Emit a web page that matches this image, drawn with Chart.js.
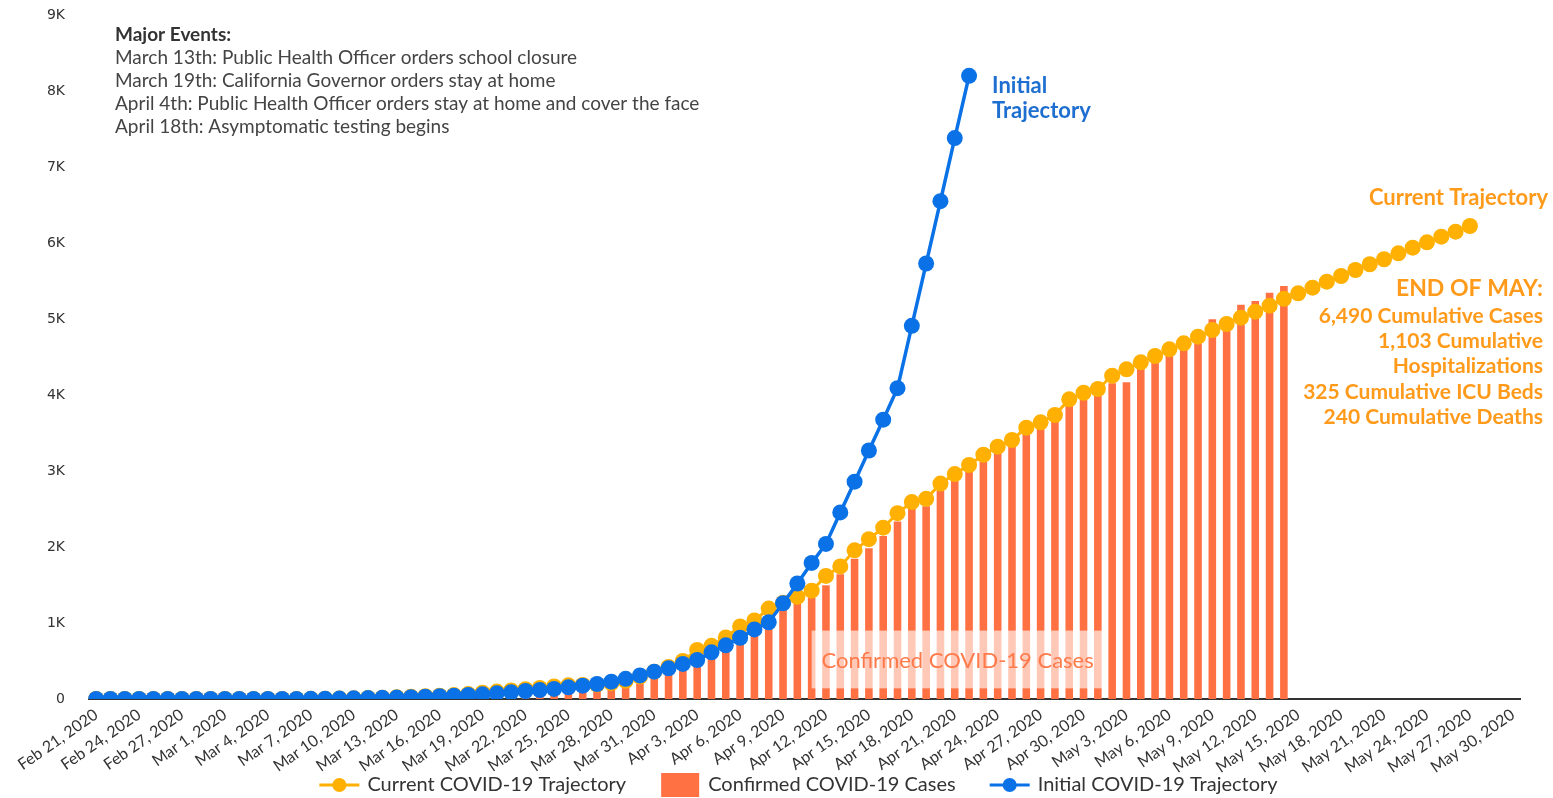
<!DOCTYPE html>
<html>
<head>
<meta charset="utf-8">
<script src="https://cdn.jsdelivr.net/npm/chart.js@4.4.0/dist/chart.umd.min.js"></script>
<style>
  html, body { margin: 0; padding: 0; background: #fff; }
  canvas { display: block; }
</style>
</head>
<body>
<canvas id="chart" width="1553" height="798"></canvas>
<script>
// Daily categories, Feb 21 - May 30, 2020
const categories = [
  'Feb 21, 2020','Feb 22, 2020','Feb 23, 2020','Feb 24, 2020','Feb 25, 2020','Feb 26, 2020','Feb 27, 2020','Feb 28, 2020','Feb 29, 2020',
  'Mar 1, 2020','Mar 2, 2020','Mar 3, 2020','Mar 4, 2020','Mar 5, 2020','Mar 6, 2020','Mar 7, 2020','Mar 8, 2020','Mar 9, 2020','Mar 10, 2020',
  'Mar 11, 2020','Mar 12, 2020','Mar 13, 2020','Mar 14, 2020','Mar 15, 2020','Mar 16, 2020','Mar 17, 2020','Mar 18, 2020','Mar 19, 2020','Mar 20, 2020',
  'Mar 21, 2020','Mar 22, 2020','Mar 23, 2020','Mar 24, 2020','Mar 25, 2020','Mar 26, 2020','Mar 27, 2020','Mar 28, 2020','Mar 29, 2020','Mar 30, 2020','Mar 31, 2020',
  'Apr 1, 2020','Apr 2, 2020','Apr 3, 2020','Apr 4, 2020','Apr 5, 2020','Apr 6, 2020','Apr 7, 2020','Apr 8, 2020','Apr 9, 2020','Apr 10, 2020',
  'Apr 11, 2020','Apr 12, 2020','Apr 13, 2020','Apr 14, 2020','Apr 15, 2020','Apr 16, 2020','Apr 17, 2020','Apr 18, 2020','Apr 19, 2020','Apr 20, 2020',
  'Apr 21, 2020','Apr 22, 2020','Apr 23, 2020','Apr 24, 2020','Apr 25, 2020','Apr 26, 2020','Apr 27, 2020','Apr 28, 2020','Apr 29, 2020','Apr 30, 2020',
  'May 1, 2020','May 2, 2020','May 3, 2020','May 4, 2020','May 5, 2020','May 6, 2020','May 7, 2020','May 8, 2020','May 9, 2020','May 10, 2020',
  'May 11, 2020','May 12, 2020','May 13, 2020','May 14, 2020','May 15, 2020','May 16, 2020','May 17, 2020','May 18, 2020','May 19, 2020','May 20, 2020',
  'May 21, 2020','May 22, 2020','May 23, 2020','May 24, 2020','May 25, 2020','May 26, 2020','May 27, 2020','May 28, 2020','May 29, 2020','May 30, 2020'
];

const currentTrajectory = [
  0, 0, 0, 0, 0, 0, 0, 0, 0, 0,
  0, 0, 0, 0, 0, 2, 4, 7, 10, 14,
  18, 23, 29, 36, 44, 52, 65, 82, 98, 112,
  128, 145, 165, 180, 185, 190, 210, 240, 295, 360,
  421, 500, 645, 700, 810, 955, 1034, 1190, 1265, 1344,
  1425, 1620, 1745, 1956, 2103, 2254, 2445, 2591, 2634, 2834,
  2959, 3079, 3214, 3320, 3408, 3570, 3640, 3737, 3943, 4030,
  4079, 4254, 4338, 4430, 4513, 4601, 4680, 4767, 4855, 4934,
  5017, 5096, 5175, 5265, 5338, 5412, 5491, 5566, 5645, 5720,
  5786, 5864, 5938, 6009, 6083, 6149, 6224, null, null, null
];

const confirmedCases = [
  null, null, null, null, null, null, null, null, null, null,
  null, null, null, null, null, null, null, null, null, null,
  10, 15, 20, 28, 35, 45, 55, 70, 85, 100,
  115, 130, 145, 160, 175, 185, 205, 225, 280, 340,
  400, 470, 600, 650, 760, 910, 1000, 1150, 1171, 1250,
  1333, 1496, 1642, 1847, 1983, 2145, 2336, 2500, 2537, 2742,
  2868, 2987, 3122, 3233, 3320, 3496, 3561, 3649, 3855, 3934,
  4000, 4154, 4167, 4351, 4439, 4526, 4614, 4680, 4996, 4880,
  5189, 5237, 5346, 5434, null, null, null, null, null, null,
  null, null, null, null, null, null, null, null, null, null
];

const initialTrajectory = [
  0, 0, 0, 0, 0, 0, 0, 0, 0, 0,
  0, 0, 0, 0, 0, 2, 4, 6, 9, 12,
  15, 19, 24, 30, 36, 43, 53, 62, 75, 88,
  105, 118, 132, 154, 175, 197, 228, 265, 310, 360,
  404, 461, 513, 614, 706, 806, 915, 1010, 1260, 1520,
  1790, 2040, 2455, 2860, 3270, 3675, 4090, 4910, 5730, 6550,
  7380, 8200, null, null, null, null, null, null, null, null,
  null, null, null, null, null, null, null, null, null, null,
  null, null, null, null, null, null, null, null, null, null,
  null, null, null, null, null, null, null, null, null, null
];

const majorEventsTitle = 'Major Events:';
const majorEvents = [
  'March 13th: Public Health Officer orders school closure',
  'March 19th: California Governor orders stay at home',
  'April 4th: Public Health Officer orders stay at home and cover the face',
  'April 18th: Asymptomatic testing begins'
];
const endOfMayTitle = 'END OF MAY:';
const endOfMayLines = [
  '6,490 Cumulative Cases',
  '1,103 Cumulative',
  'Hospitalizations',
  '325 Cumulative ICU Beds',
  '240 Cumulative Deaths'
];

const YELLOW = '#ffb000';
const ORANGE = '#ff7043';
const BLUE = '#0a72e6';

// text annotations and the bottom legend
const annotations = {
  id: 'annotations',
  afterDatasetsDraw(chart) {
    const { ctx, chartArea, scales: { x, y } } = chart;
    ctx.save();
    ctx.textBaseline = 'middle';

    // translucent label box over the bars
    const bx0 = x.getPixelForValue(50), bx1 = x.getPixelForValue(70.4);
    const by0 = y.getPixelForValue(900), by1 = y.getPixelForValue(140);
    ctx.fillStyle = 'rgba(255,255,255,0.62)';
    ctx.fillRect(bx0, by0, bx1 - bx0, by1 - by0);
    ctx.fillStyle = '#ff7a4a';
    ctx.font = '22px Lato';
    ctx.textAlign = 'center';
    ctx.fillText('Confirmed COVID-19 Cases', (bx0 + bx1) / 2, (by0 + by1) / 2 + 1);

    // major events block
    ctx.textAlign = 'left';
    ctx.fillStyle = '#333';
    ctx.font = 'bold 19px Lato';
    ctx.fillText(majorEventsTitle, 115, 35);
    ctx.font = '19px Lato';
    ctx.fillStyle = '#444';
    majorEvents.forEach((t, i) => ctx.fillText(t, 115, 58 + i * 23));

    // initial trajectory label
    const ix = x.getPixelForValue(61) + 23;
    const iy = y.getPixelForValue(8200);
    ctx.fillStyle = '#1f6fd1';
    ctx.font = 'bold 22px Lato';
    ctx.fillText('Initial', ix, iy + 10);
    ctx.fillText('Trajectory', ix, iy + 35);

    // current trajectory + end of May block
    ctx.textAlign = 'right';
    ctx.fillStyle = '#ff9a1a';
    ctx.font = 'bold 22px Lato';
    ctx.fillText('Current Trajectory', 1548, 198);
    ctx.font = 'bold 23px Lato';
    ctx.fillText(endOfMayTitle, 1543, 289);
    ctx.font = 'bold 21px Lato';
    endOfMayLines.forEach((t, i) => ctx.fillText(t, 1543, 316 + i * 25.3));

    // legend: line+dot for line datasets, box for bars
    ctx.font = '20px Lato';
    ctx.textAlign = 'left';
    const items = chart.data.datasets.map(d => ({ text: d.label, color: d.backgroundColor, bar: d.type === 'bar' }));
    const iconW = 40, textGap = 8, itemGap = 34;
    const total = items.reduce((s, it) => s + iconW + textGap + ctx.measureText(it.text).width, 0) + itemGap * (items.length - 1);
    let lx = (chartArea.left + chartArea.right) / 2 - 6 - total / 2;
    const ly = 785;
    items.forEach(it => {
      ctx.fillStyle = it.color;
      ctx.strokeStyle = it.color;
      if (it.bar) {
        ctx.fillRect(lx + 1, ly - 12, 38, 24);
      } else {
        ctx.lineWidth = 3;
        ctx.beginPath(); ctx.moveTo(lx, ly); ctx.lineTo(lx + iconW, ly); ctx.stroke();
        ctx.beginPath(); ctx.arc(lx + iconW / 2, ly, 7, 0, Math.PI * 2); ctx.fill();
      }
      ctx.fillStyle = '#333';
      ctx.fillText(it.text, lx + iconW + textGap, ly);
      lx += iconW + textGap + ctx.measureText(it.text).width + itemGap;
    });

    ctx.restore();
  }
};

const ctx = document.getElementById('chart').getContext('2d');
new Chart(ctx, {
  type: 'bar',
  data: {
    labels: categories,
    datasets: [
      {
        type: 'line', label: 'Current COVID-19 Trajectory', data: currentTrajectory,
        borderColor: YELLOW, backgroundColor: YELLOW, borderWidth: 3,
        pointRadius: 8, pointHoverRadius: 8, pointBorderWidth: 0, tension: 0, order: 1
      },
      {
        type: 'bar', label: 'Confirmed COVID-19 Cases', data: confirmedCases,
        backgroundColor: ORANGE, barPercentage: 0.53, categoryPercentage: 1, order: 2
      },
      {
        type: 'line', label: 'Initial COVID-19 Trajectory', data: initialTrajectory,
        borderColor: BLUE, backgroundColor: BLUE, borderWidth: 3.5,
        pointRadius: 8, pointHoverRadius: 8, pointBorderWidth: 0, tension: 0, order: 0
      }
    ]
  },
  options: {
    responsive: false,
    animation: false,
    layout: { padding: { top: 15, right: 33, left: 0, bottom: 0 } },
    plugins: {
      tooltip: { enabled: false },
      legend: { display: false }
    },
    scales: {
      x: {
        grid: { color: 'rgba(0,0,0,0)', drawTicks: false },
        border: { color: '#333', width: 2 },
        ticks: {
          autoSkip: false, minRotation: 35, maxRotation: 35, padding: 6,
          color: '#333', font: { family: 'Lato', size: 16 },
          callback: (v, i) => (i % 3 === 0 ? categories[i] : '')
        },
        afterFit: s => { s.height = 99; }
      },
      y: {
        min: 0, max: 9000,
        grid: { display: false, drawTicks: true, tickLength: 18 },
        border: { display: false },
        ticks: {
          stepSize: 1000, padding: 6, color: '#333',
          font: { family: 'DejaVu Sans', size: 14 },
          callback: v => (v === 0 ? '0' : v / 1000 + 'K')
        },
        afterFit: s => { s.width = 89; }
      }
    }
  },
  plugins: [annotations]
});
</script>
</body>
</html>
